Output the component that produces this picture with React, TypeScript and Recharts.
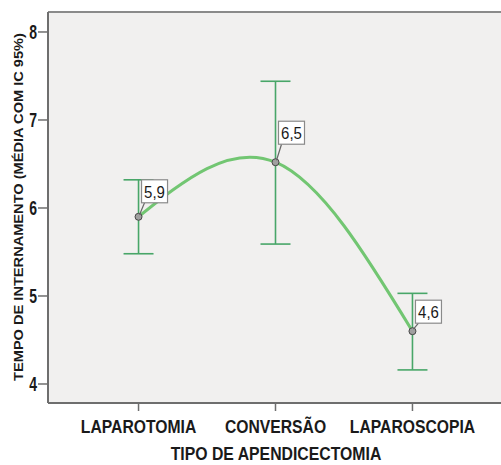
import React from 'react';
import { ComposedChart, Line, XAxis, YAxis, CartesianGrid, ErrorBar, ReferenceLine } from 'recharts';

const categories = ['LAPAROTOMIA', 'CONVERSÃO', 'LAPAROSCOPIA'];
const means = [5.9, 6.52, 4.6];
const ciLow = [5.48, 5.59, 4.16];
const ciHigh = [6.32, 7.44, 5.03];
const yTicks = [4, 5, 6, 7, 8];

const Y_MIN = 3.784;
const Y_MAX = 8.227;
const STRETCH = 1.16;
const FONT = '"Liberation Sans", Arial, sans-serif';
const labelLift = [14, 18, 8];

const data = categories.map((name, i) => ({
  x: i + 1,
  name,
  mean: means[i],
  ci: [means[i] - ciLow[i], ciHigh[i] - means[i]],
}));

const XTick = (props: any) => {
  const { x, y, payload } = props;
  return (
    <g transform={`translate(${x},${y + 20}) scale(1,${STRETCH})`}>
      <text textAnchor="middle" fontFamily={FONT} fontWeight="bold" fontSize={15.7} fill="#1a1a1a">
        {categories[payload.value - 1]}
      </text>
    </g>
  );
};

const YTick = (props: any) => {
  const { x, y, payload } = props;
  return (
    <g transform={`translate(${x + 1},${y + 7}) scale(1,1.4)`}>
      <text textAnchor="end" fontFamily={FONT} fontWeight="bold" fontSize={14} fill="#1a1a1a">
        {payload.value}
      </text>
    </g>
  );
};

const Dot = (props: any) => {
  const { cx, cy } = props;
  return <circle cx={cx} cy={cy} r={3.5} fill="#a0a0a0" stroke="#474747" strokeWidth={1} />;
};

const ValueLabel = (props: any) => {
  const { x, y, value, index } = props;
  const lift = labelLift[index] ?? 14;
  const bx = x + 3;
  const by = y - lift - 23;
  return (
    <g>
      <line x1={x + 1} y1={y - 2} x2={bx + 3} y2={y - lift} stroke="#666" strokeWidth={1.2} />
      <rect x={bx} y={by} width={26} height={23} fill="#ffffff" stroke="#8a8a8a" strokeWidth={1.2} />
      <g transform={`translate(${bx + 13},${by + 18}) scale(1,${STRETCH})`}>
        <text textAnchor="middle" fontFamily={FONT} fontSize={15} fill="#1a1a1a">
          {Number(value).toFixed(1).replace('.', ',')}
        </text>
      </g>
    </g>
  );
};

export default function App() {
  return (
    <div style={{ position: 'absolute', left: 0, top: 0, width: 501, height: 465, overflow: 'hidden', background: '#ffffff' }}>
      <ComposedChart width={510} height={465} data={data} margin={{ top: 12, right: 7, bottom: 0, left: 0 }}>
        <CartesianGrid horizontal={false} vertical={false} fill="#f1f0ef" />
        <XAxis
          dataKey="x"
          type="number"
          domain={[0.339, 3.661]}
          ticks={[1, 2, 3]}
          allowDataOverflow
          height={62}
          tickSize={8}
          axisLine={{ stroke: '#6e6e6e', strokeWidth: 2 }}
          tickLine={{ stroke: '#6e6e6e', strokeWidth: 1.5 }}
          tick={<XTick />}
          label={
            <g transform={`translate(276,460) scale(1,${STRETCH})`}>
              <text textAnchor="middle" fontFamily={FONT} fontWeight="bold" fontSize={15.8} fill="#1a1a1a">
                TIPO DE APENDICECTOMIA
              </text>
            </g>
          }
        />
        <YAxis
          type="number"
          domain={[Y_MIN, Y_MAX]}
          ticks={yTicks}
          allowDataOverflow
          width={48}
          tickSize={10}
          axisLine={{ stroke: '#6e6e6e', strokeWidth: 2 }}
          tickLine={{ stroke: '#6e6e6e', strokeWidth: 1.5 }}
          tick={<YTick />}
          label={
            <g transform={`translate(23,207) rotate(-90) scale(${STRETCH},1)`}>
              <text textAnchor="middle" fontFamily={FONT} fontWeight="bold" fontSize={12.6} fill="#1a1a1a">
                TEMPO DE INTERNAMENTO (MÉDIA COM IC 95%)
              </text>
            </g>
          }
        />
        <ReferenceLine y={Y_MAX} stroke="#8a8a8a" strokeWidth={2} />
        <Line
          dataKey="mean"
          type="natural"
          stroke="#72c672"
          strokeWidth={3}
          dot={<Dot />}
          activeDot={false}
          label={<ValueLabel />}
          isAnimationActive={false}
        >
          <ErrorBar dataKey="ci" direction="y" width={15} stroke="#48a668" strokeWidth={1.6} isAnimationActive={false} />
        </Line>
      </ComposedChart>
    </div>
  );
}
